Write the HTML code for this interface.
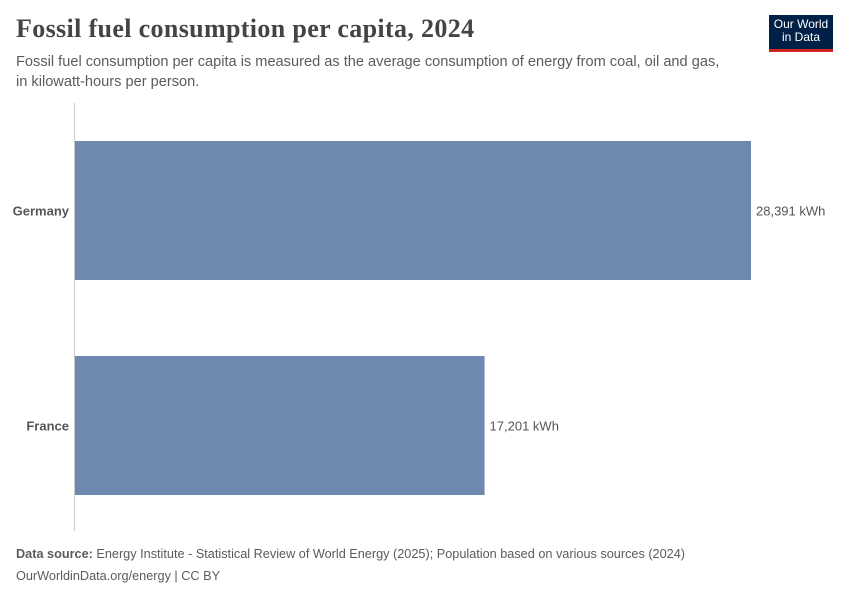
<!DOCTYPE html>
<html><head><meta charset="utf-8"><style>
body{margin:0;width:850px;height:600px;background:#fff;font-family:"Liberation Sans",sans-serif;position:relative;overflow:hidden}
.t{position:absolute;white-space:nowrap}
</style></head><body>
<div class="t" style="left:16px;top:14px;font-family:'Liberation Serif',serif;font-size:26px;letter-spacing:0.35px;font-weight:bold;color:#444">Fossil fuel consumption per capita, 2024</div>
<div class="t" style="left:16px;top:52px;font-size:14.6px;line-height:20px;color:#5b5b5b">Fossil fuel consumption per capita is measured as the average consumption of energy from coal, oil and gas,<br>in kilowatt-hours per person.</div>
<div style="position:absolute;left:769px;top:15px;width:64px;background:#002147;border-bottom:3px solid #ce261e;color:#fff;font-size:12px;line-height:13px;text-align:center;padding-top:3px;height:31px">Our World<br>in Data</div>
<svg id="chart" width="850" height="600" style="position:absolute;left:0;top:0"></svg>
<div class="t" style="left:16px;top:547px;font-size:12.7px;color:#5b5b5b"><b>Data source:</b> Energy Institute - Statistical Review of World Energy (2025); Population based on various sources (2024)</div>
<div class="t" style="left:16px;top:569px;font-size:12.7px;color:#5b5b5b">OurWorldinData.org/energy | CC BY</div>
<script>
const categories=["Germany","France"];
const values=[28391,17201];
const labels=["28,391 kWh","17,201 kWh"];
const svg=document.getElementById('chart');
const NS='http://www.w3.org/2000/svg';
const x0=75,pxPer=676/28391;
const xs=v=>x0+v*pxPer;
const bh=139;
function mk(t,a){const e=document.createElementNS(NS,t);for(const k in a)e.setAttribute(k,a[k]);svg.appendChild(e);return e;}
const ax=mk('line',{x1:74.5,x2:74.5,y1:103,y2:531,stroke:'#ccc'});


categories.forEach((c,i)=>{
 const y=141+i*215;
 const r=mk('rect',{x:x0,y:y,width:xs(values[i])-x0,height:bh,fill:'#6f88b0'});
 
 
 const l=mk('text',{x:69,y:y+bh/2+5,'text-anchor':'end','font-size':13,'font-weight':'bold',fill:'#555','font-family':'Liberation Sans'});
 l.textContent=c;
 
 
 const v=mk('text',{x:xs(values[i])+5,y:y+bh/2+5,'font-size':13,fill:'#555','font-family':'Liberation Sans'});
 v.textContent=labels[i];
 
 
});
</script>
</body></html>
